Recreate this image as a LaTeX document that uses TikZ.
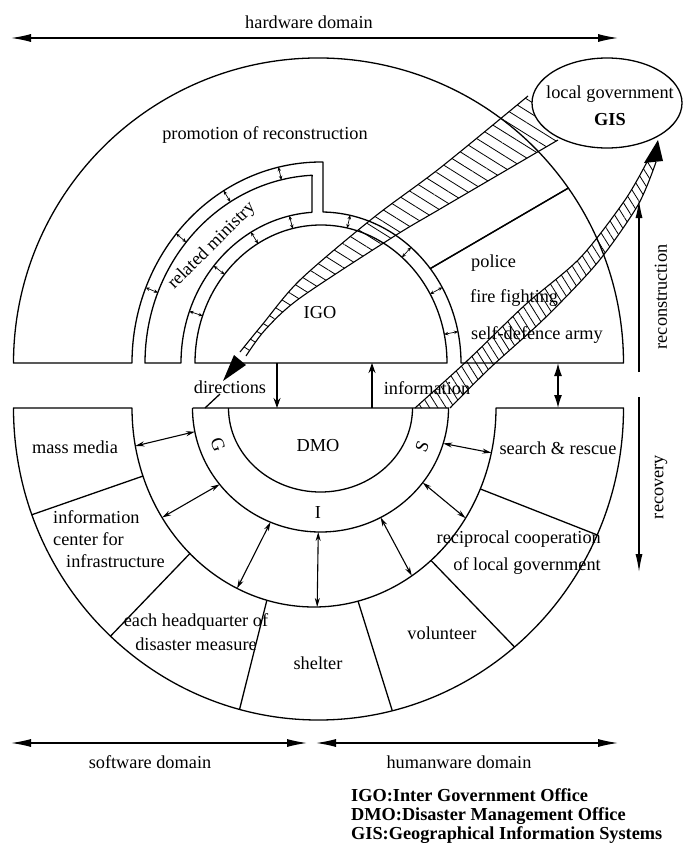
\documentclass[tikz,border=0pt]{standalone}
\usepackage{fontspec}
\setmainfont{Liberation Serif}
\usetikzlibrary{calc,arrows.meta,patterns.meta,shapes.geometric}
\tikzset{
  blk/.style={draw=black, line width=1.3pt, line join=round},
  rail/.style={draw=black, line width=1.1pt},
  tiny/.style={line width=0.7pt, {Stealth[length=4pt,width=3.5pt]}-{Stealth[length=4pt,width=3.5pt]}},
  duo/.style={line width=1.1pt, {Stealth[length=9pt,width=5pt]}-{Stealth[length=9pt,width=5pt]}},
  dom/.style={line width=1.2pt, {Latex[length=20pt,width=8pt]}-{Latex[length=20pt,width=8pt]}},
  vdom/.style={line width=1.2pt, -{Latex[length=18pt,width=7pt]}},
  flow/.style={line width=1.1pt, -{Stealth[length=10pt,width=7pt]}},
  hatchA/.style={pattern={Lines[angle=-32,distance=10pt,line width=0.8pt]}},
  hatchB/.style={pattern={Lines[angle=-58,distance=7pt,line width=0.8pt]}},
  lab/.style={font=\fontsize{18.3}{22}\selectfont, inner sep=0pt},
  legend/.style={font=\fontsize{18.3}{19}\selectfont\bfseries, inner sep=0pt, align=left},
}
\begin{document}
\begin{tikzpicture}[x=1pt,y=-1pt]
  \useasboundingbox (0,0) rectangle (683,843);
  % centres of the upper and lower halves
  \coordinate (U) at (321,363);
  \coordinate (Uo) at (318.5,363);
  \coordinate (L) at (320.5,408);
  \coordinate (R) at (314,408);
  \coordinate (Lo) at (318.5,408);

  % upper half: promotion, related ministry, police block, IGO
  \draw[blk] ($(Uo)+(180:305)$) -- ($(U)+(180:189 and 201)$)
    arc[start angle=180,end angle=270.6,x radius=189,y radius=201]
    -- ($(U)+(270.8:140 and 151)$)
    arc[start angle=270.8,end angle=321.3,x radius=140,y radius=151]
    -- ($(Uo)+(325:305)$)
    arc[start angle=325,end angle=180,radius=305] -- cycle;
  \draw[blk] ($(U)+(321.3:140 and 151)$) -- ($(Uo)+(325:305)$)
    arc[start angle=325,end angle=360,radius=305]
    -- ($(U)+(0:140 and 151)$)
    arc[start angle=360,end angle=321.3,x radius=140,y radius=151] -- cycle;
  \draw[blk] ($(U)+(180:176 and 188)$)
    arc[start angle=180,end angle=267.1,x radius=176,y radius=188]
    -- ($(U)+(266.3:140 and 151)$)
    arc[start angle=266.3,end angle=180,x radius=140,y radius=151] -- cycle;
  \draw[blk] ($(U)+(180:126 and 138)$)
    arc[start angle=180,end angle=360,x radius=126,y radius=138] -- cycle;
  \foreach \t in {200,220,240,257,282,310,330,348}
    \draw[tiny] ($(U)+(\t:126 and 138)$) -- ($(U)+(\t:140 and 151)$);
  \foreach \t in {202,220,239,257}
    \draw[tiny] ($(U)+(\t:176 and 188)$) -- ($(U)+(\t:189 and 201)$);

  % lower half: outer ring, GIS band, DMO
  \draw[blk] ($(Lo)+(180:305 and 312)$) -- ($(R)+(180:182 and 199)$)
    arc[start angle=180,end angle=0,x radius=182,y radius=199]
    -- ($(Lo)+(0:305 and 312)$)
    arc[start angle=0,end angle=180,x radius=305,y radius=312] -- cycle;
  \foreach \t in {160,133,105,76,50,24}
    \draw[blk] ($(R)+(\t:182 and 199)$) -- ($(Lo)+(\t:305 and 312)$);
  \draw[blk] ($(L)+(180:128 and 124)$) -- ($(L)+(0:128 and 124)$)
    arc[start angle=0,end angle=180,x radius=128,y radius=124];
  \draw[blk] ($(L)+(0:92 and 84)$)
    arc[start angle=0,end angle=180,x radius=92,y radius=84];
  \foreach \a/\b in {169/169,142/146.6,113/115,91/89,62/57.5,37/33.6,16.6/13}
    \draw[duo] ($(L)+(\a:128 and 124)$) -- ($(R)+(\b:182 and 199)$);

  % hatched flows
  \fill[hatchA] plot[smooth] coordinates {(528,96) (440,168) (373,218) (300,280) (262,325) (240,352)}
    -- plot[smooth] coordinates {(246,356) (265,330) (300,298) (393,237) (440,209) (558,140)} -- cycle;
  \draw[rail] plot[smooth] coordinates {(528,96) (440,168) (373,218) (300,280) (262,325) (240,352)};
  \draw[rail] plot[smooth] coordinates {(246,356) (265,330) (300,298) (393,237) (440,209) (558,140)};
  \fill (234,355) -- (246,365) -- (223,381) -- cycle;
  \fill[hatchB] plot[smooth] coordinates {(415,408) (468,360) (525,305) (580,258) (625,200) (648,160)}
    -- plot[smooth] coordinates {(656,162) (638,205) (598,262) (545,318) (490,368) (450,408)} -- cycle;
  \draw[rail] plot[smooth] coordinates {(415,408) (468,360) (525,305) (580,258) (625,200) (648,160)};
  \draw[rail] plot[smooth] coordinates {(656,162) (638,205) (598,262) (545,318) (490,368) (450,408)};
  \fill (644,163) -- (663,161) -- (658,140) -- cycle;

  \node[ellipse, blk, fill=white, minimum width=150pt, minimum height=90pt] (lgis) at (607,103) {};
  \node[lab] (lgov) at ($(lgis)+(3,-9)$) {local government};
  \node[lab, font=\fontsize{18.3}{22}\selectfont\bfseries] (lgisname) at ($(lgis)+(3,17)$) {GIS};

  % connectors between the halves
  \coordinate (dtail) at (220,394);
  \coordinate (dend) at (205,408);
  \draw[blk] (dtail) -- (dend);
  \coordinate (dirA) at (277,363);
  \coordinate (dirB) at (277,408);
  \draw[flow] (dirA) -- (dirB);
  \coordinate (infA) at (372,408);
  \coordinate (infB) at (372,363);
  \draw[flow] (infA) -- (infB);
  \coordinate (sarA) at (558,363);
  \coordinate (sarB) at (558,408);
  \draw[line width=1.3pt, {Latex[length=13pt,width=8pt]}-{Latex[length=13pt,width=8pt]}] (sarA) -- (sarB);

  % domain arrows
  \coordinate (hwl) at (11,38);
  \coordinate (hwr) at (618,38);
  \draw[dom] (hwl) -- (hwr);
  \coordinate (swl) at (11,743);
  \coordinate (swr) at (307,743);
  \draw[dom] (swl) -- (swr);
  \coordinate (hul) at (316,743);
  \coordinate (hur) at (618,743);
  \draw[dom] (hul) -- (hur);
  \coordinate (rca) at (639,372);
  \coordinate (rcb) at (639,200);
  \draw[vdom] (rca) -- (rcb);
  \coordinate (rva) at (639,397);
  \coordinate (rvb) at (639,572);
  \draw[vdom] (rva) -- (rvb);

  % labels
  \node[lab] (hw) at (309,22) {hardware domain};
  \node[lab] (promo) at (265,135) {promotion of reconstruction};
  \node[lab, rotate=45] (relmin) at (212,246) {related ministry};
  \node[lab] (igo) at (320,313) {IGO};
  \node[lab, anchor=west] (police) at (471,263) {police};
  \node[lab, anchor=west] (fire) at (470,298) {fire fighting};
  \node[lab, anchor=west] (army) at (471,335) {self-defence army};
  \node[lab] (dir) at (230,387) {directions};
  \node[lab] (info) at (427,388) {information};
  \node[lab] (dmo) at (318,446) {DMO};
  \node[lab, rotate=-70] (gG) at (218,445) {G};
  \node[lab] (gI) at (318,513) {I};
  \node[lab, rotate=69] (gS) at (422,447) {S};
  \node[lab] (mass) at (75,447) {mass media};
  \node[lab, anchor=west, align=left] (icenter) at (53,539) {information\\center for\\\hspace*{13pt}infrastructure};
  \node[lab, align=center] (hq) at (196,632) {each headquarter of\\[2pt]disaster measure};
  \node[lab] (shelter) at (318,663) {shelter};
  \node[lab] (vol) at (442,633) {volunteer};
  \node[lab, anchor=east, align=right] (recip) at (601,553) {reciprocal cooperation\\[5pt]of local government};
  \node[lab] (search) at (558,448) {search \& rescue};
  \node[lab, rotate=90] (recon) at (661,297) {reconstruction};
  \node[lab, rotate=90] (recov) at (661,487) {recovery};
  \node[lab] (sw) at (150,762) {software domain};
  \node[lab] (hu) at (459,762) {humanware domain};
  \node[legend, anchor=west] (leg) at (351,816) {IGO:Inter Government Office\\DMO:Disaster Management Office\\GIS:Geographical Information Systems};
\end{tikzpicture}
\end{document}
